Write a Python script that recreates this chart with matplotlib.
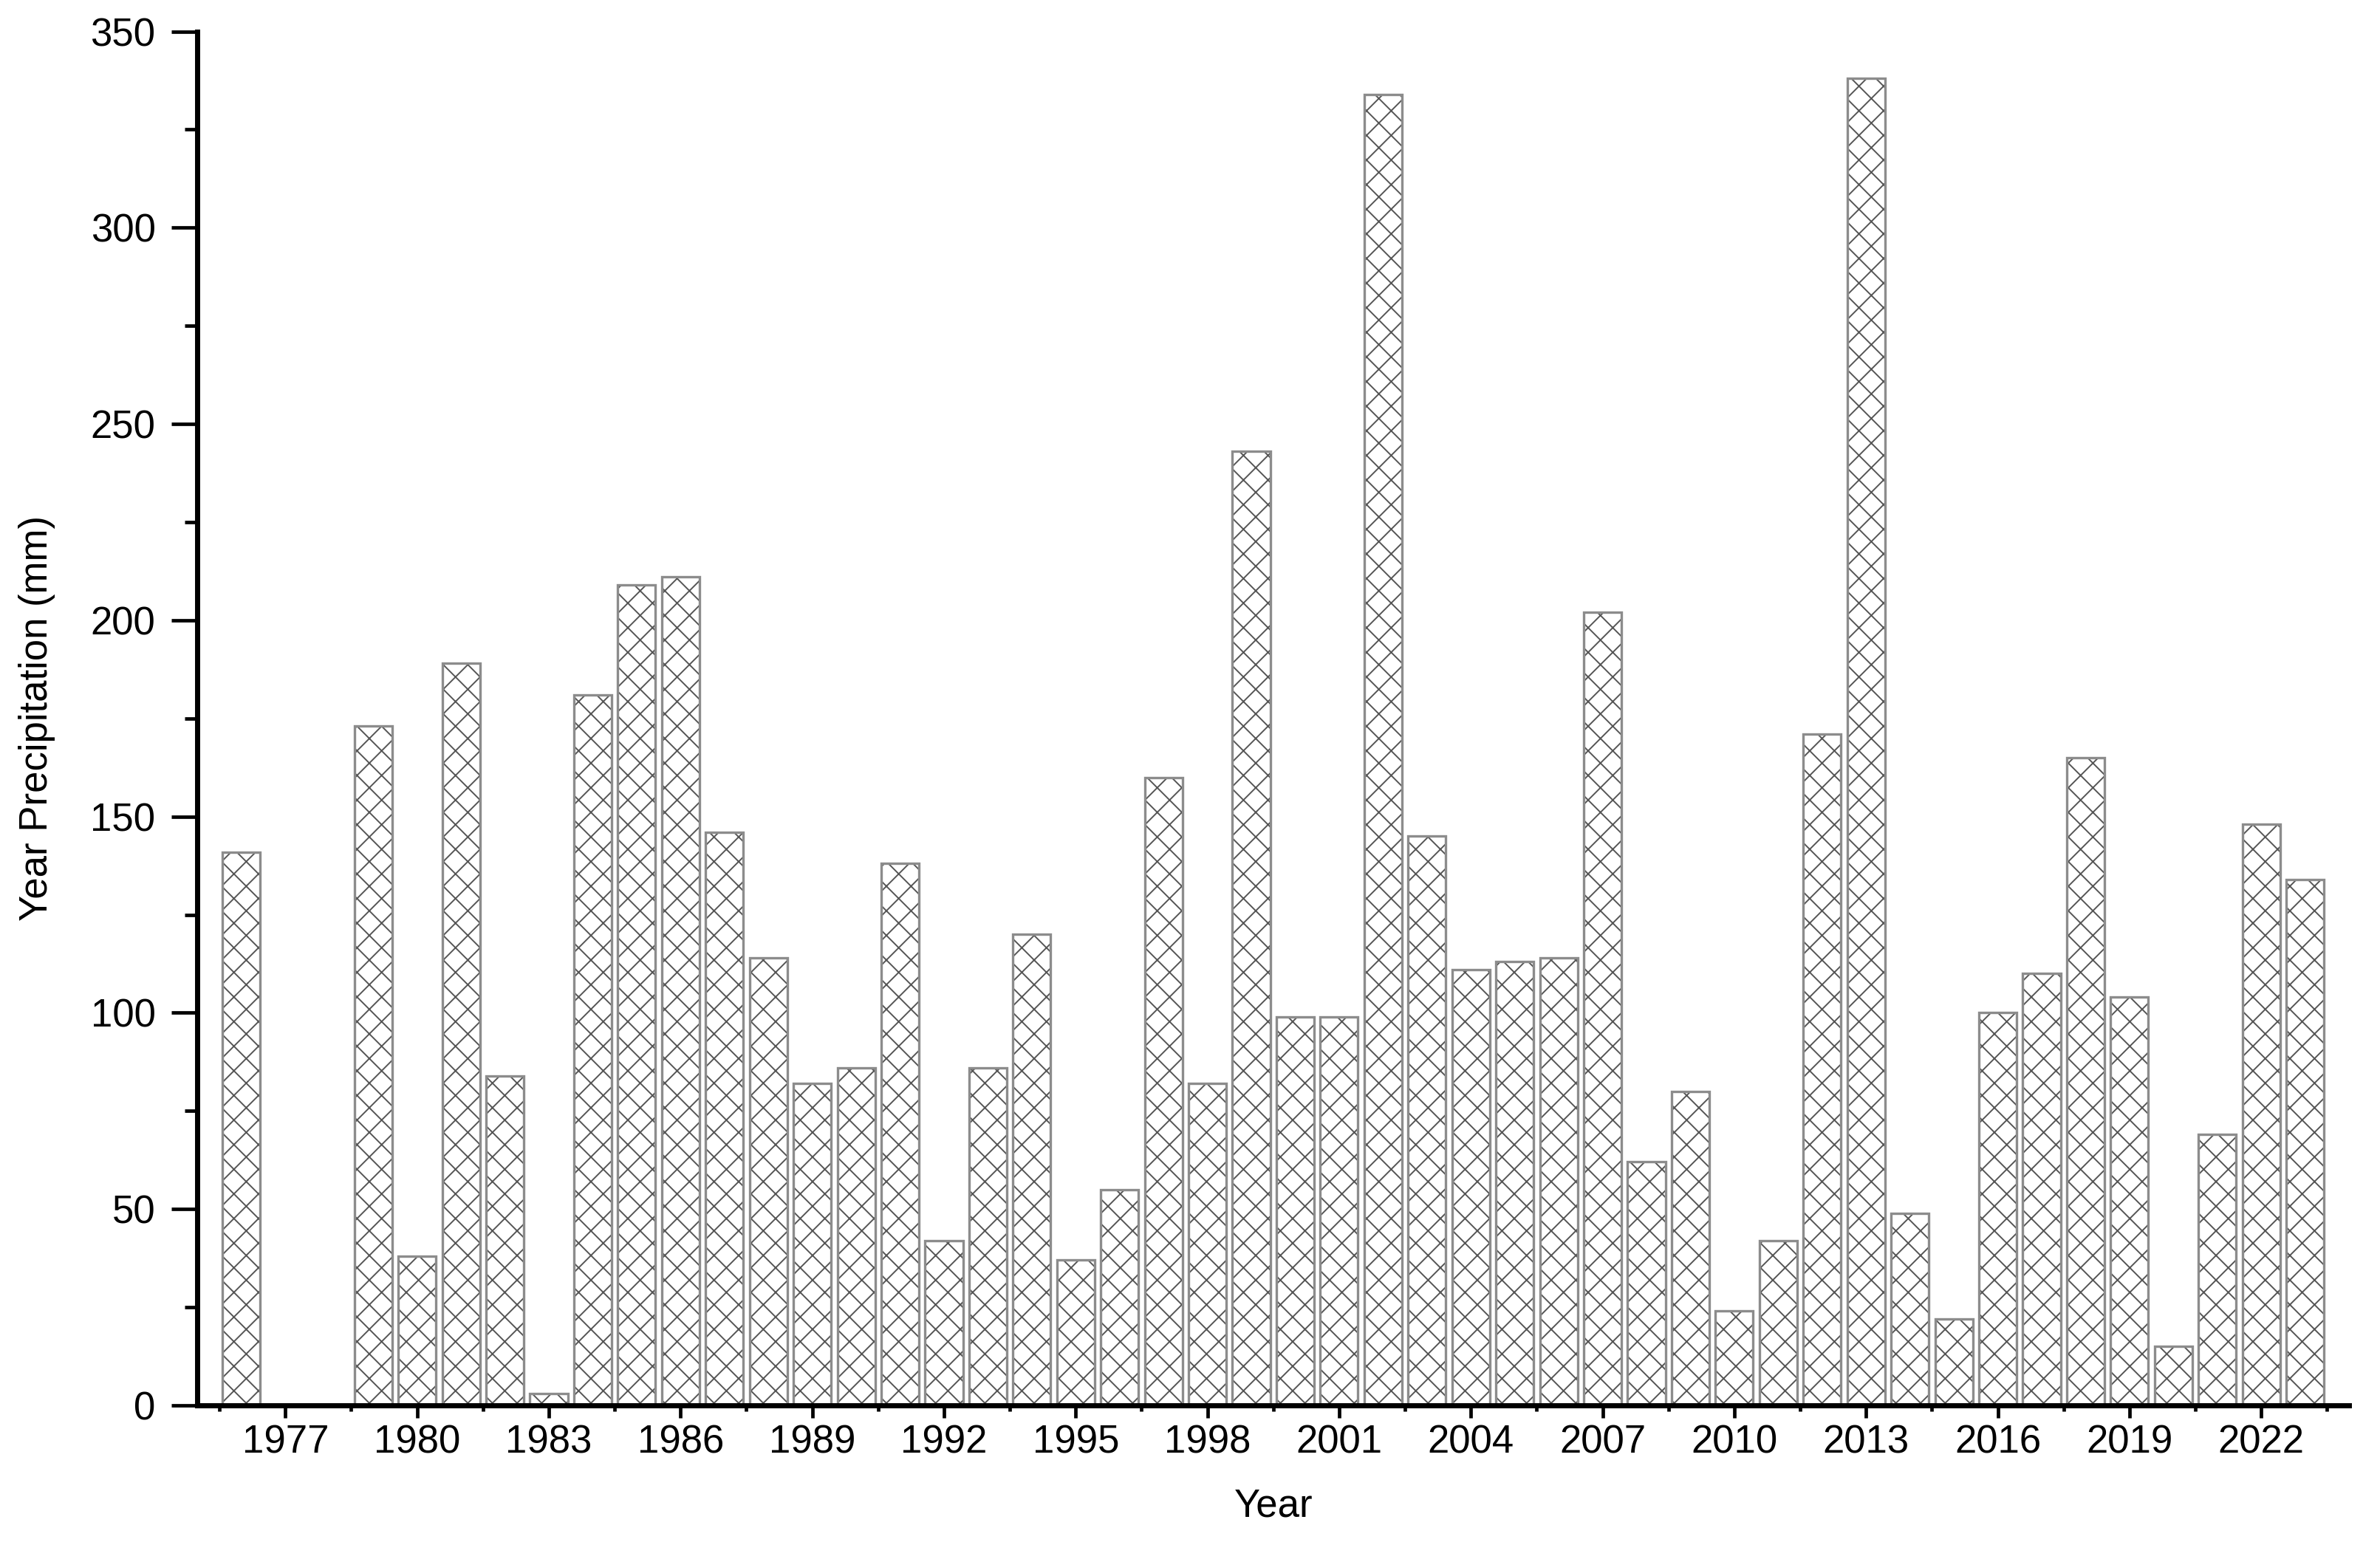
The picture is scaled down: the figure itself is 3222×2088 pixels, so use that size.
import matplotlib
matplotlib.use("Agg")
import matplotlib.pyplot as plt
from matplotlib.ticker import MultipleLocator, FixedLocator

# Annual precipitation
years = list(range(1976, 2024))
precip = [141, 0, 0, 173, 38, 189, 84, 3, 181, 209,
          211, 146, 114, 82, 86, 138, 42, 86, 120, 37,
          55, 160, 82, 243, 99, 99, 334, 145, 111, 113,
          114, 202, 62, 80, 24, 42, 171, 338, 49, 22,
          100, 110, 165, 104, 15, 69, 148, 134]
year_ticks = list(range(1977, 2023, 3))

plt.rcParams['font.family'] = ['Liberation Sans', 'DejaVu Sans']
plt.rcParams['hatch.linewidth'] = 0.7
plt.rcParams['hatch.color'] = '#555555'

fig = plt.figure(figsize=(16.11, 10.44), dpi=200)
ax = fig.add_axes([0.083, 0.0886, 0.904, 0.891])

# hatched fill, then gray outline on top
ax.bar(years, precip, width=0.86, color='white', edgecolor='#555555',
       linewidth=0, hatch='xx')
ax.bar(years, precip, width=0.86, color='none', edgecolor='#8c8c8c',
       linewidth=1.2)

ax.set_xlim(1975, 2024)
ax.set_ylim(0, 350)

ax.xaxis.set_major_locator(FixedLocator(year_ticks))
ax.xaxis.set_minor_locator(FixedLocator([y - 1.5 for y in year_ticks] + [year_ticks[-1] + 1.5]))
ax.yaxis.set_major_locator(MultipleLocator(50))
ax.yaxis.set_minor_locator(MultipleLocator(25))

for side in ['top', 'right']:
    ax.spines[side].set_visible(False)
for side in ['left', 'bottom']:
    ax.spines[side].set_linewidth(2.5)

ax.tick_params(axis='y', which='major', length=12.5, width=1.7, labelsize=19, pad=8)
ax.tick_params(axis='y', which='minor', length=6, width=1.7)
ax.tick_params(axis='x', which='major', length=6, width=1.7, labelsize=19, pad=3)
ax.tick_params(axis='x', which='minor', length=3, width=1.7)

ax.set_xlabel('Year', fontsize=19, labelpad=13)
ax.set_ylabel('Year Precipitation (mm)', fontsize=19, labelpad=17)

fig.savefig('out.png', dpi=200)
